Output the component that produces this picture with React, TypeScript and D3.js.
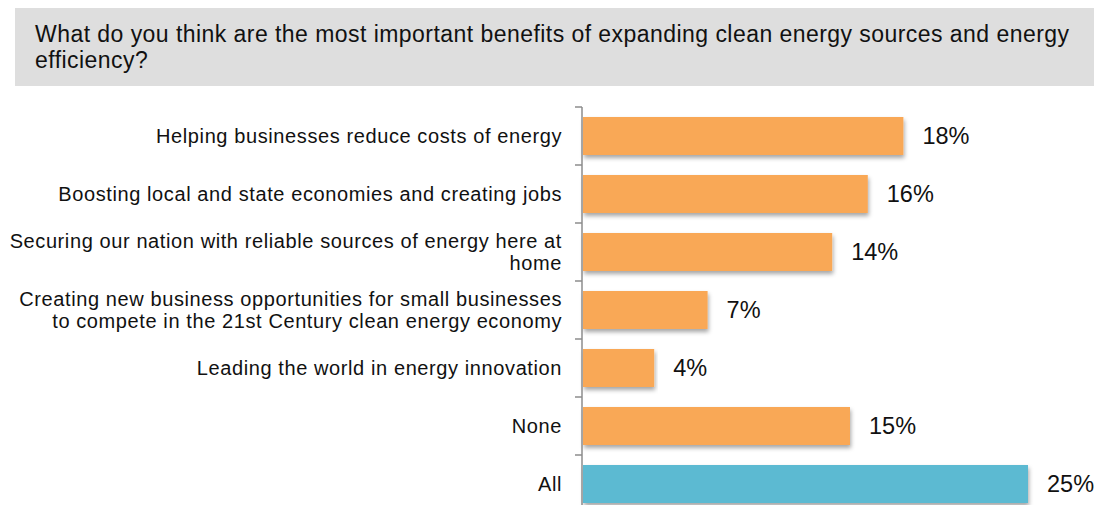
import React from "react";
import * as d3 from "d3";

const categories: string[][] = [
  ["Helping businesses reduce costs of energy"],
  ["Boosting local and state economies and creating jobs"],
  ["Securing our nation with reliable sources of energy here at", "home"],
  ["Creating new business opportunities for small businesses", "to compete in the 21st Century clean energy economy"],
  ["Leading the world in energy innovation"],
  ["None"],
  ["All"],
];
const values: number[] = [18, 16, 14, 7, 4, 15, 25];
const highlight: boolean[] = [false, false, false, false, false, false, true];
const titleLines: string[] = [
  "What do you think are the most important benefits of expanding clean energy sources and energy",
  "efficiency?",
];

const W = 1094;
const H = 505;
const FONT = "'Liberation Sans', Arial, sans-serif";

export default function App() {
  const ids = categories.map((_, i) => String(i));
  const y = d3.scaleBand<string>().domain(ids).range([107, 513]).paddingInner(0.345).paddingOuter(0.1725);
  const x = d3.scaleLinear().domain([0, 25]).range([583, 1028]);
  const step = y.step();
  const axisX = 582;
  const top = 107;
  const ticks = d3.range(categories.length + 1).map((i) => top + i * step);

  return (
    <svg width={W} height={H} style={{ position: "absolute", left: 0, top: 0, display: "block" }}>
      <defs>
        <filter id="shadow" x="-5%" y="-30%" width="110%" height="180%">
          <feDropShadow dx="1" dy="3" stdDeviation="2" floodColor="#000" floodOpacity="0.35" />
        </filter>
      </defs>
      <rect x={0} y={0} width={W} height={H} fill="#fff" />
      <rect x={15} y={8} width={W - 15} height={78} fill="#dedede" />
      {titleLines.map((t, i) => (
        <text key={i} x={35} y={42 + i * 26} fontFamily={FONT} fontSize={23} letterSpacing={0.45} fill="#111">
          {t}
        </text>
      ))}
      {values.map((v, i) => {
        const yy = y(String(i))!;
        return (
          <rect
            key={i}
            x={x(0)}
            y={yy}
            width={x(v) - x(0)}
            height={y.bandwidth()}
            fill={highlight[i] ? "#5bbad2" : "#f9a857"}
            filter="url(#shadow)"
          />
        );
      })}
      <line x1={axisX} x2={axisX} y1={top} y2={H} stroke="#8c8c8c" strokeWidth={1.5} />
      {ticks.map((t, i) => (
        <line key={i} x1={575} x2={axisX} y1={t} y2={t} stroke="#8c8c8c" strokeWidth={1.5} />
      ))}
      {categories.map((lines, i) => {
        const cy = y(String(i))! + y.bandwidth() / 2;
        const lh = 22;
        const start = cy - ((lines.length - 1) * lh) / 2;
        return (
          <text key={i} textAnchor="end" fontFamily={FONT} fontSize={20} letterSpacing={0.6} fill="#111">
            {lines.map((l, j) => (
              <tspan key={j} x={562} y={start + j * lh} dy="0.35em">
                {l}
              </tspan>
            ))}
          </text>
        );
      })}
      {values.map((v, i) => (
        <text
          key={i}
          x={x(v) + 19}
          y={y(String(i))! + y.bandwidth() / 2}
          dy="0.36em"
          fontFamily={FONT}
          fontSize={23.5}
          fill="#111"
        >
          {v}%
        </text>
      ))}
    </svg>
  );
}
